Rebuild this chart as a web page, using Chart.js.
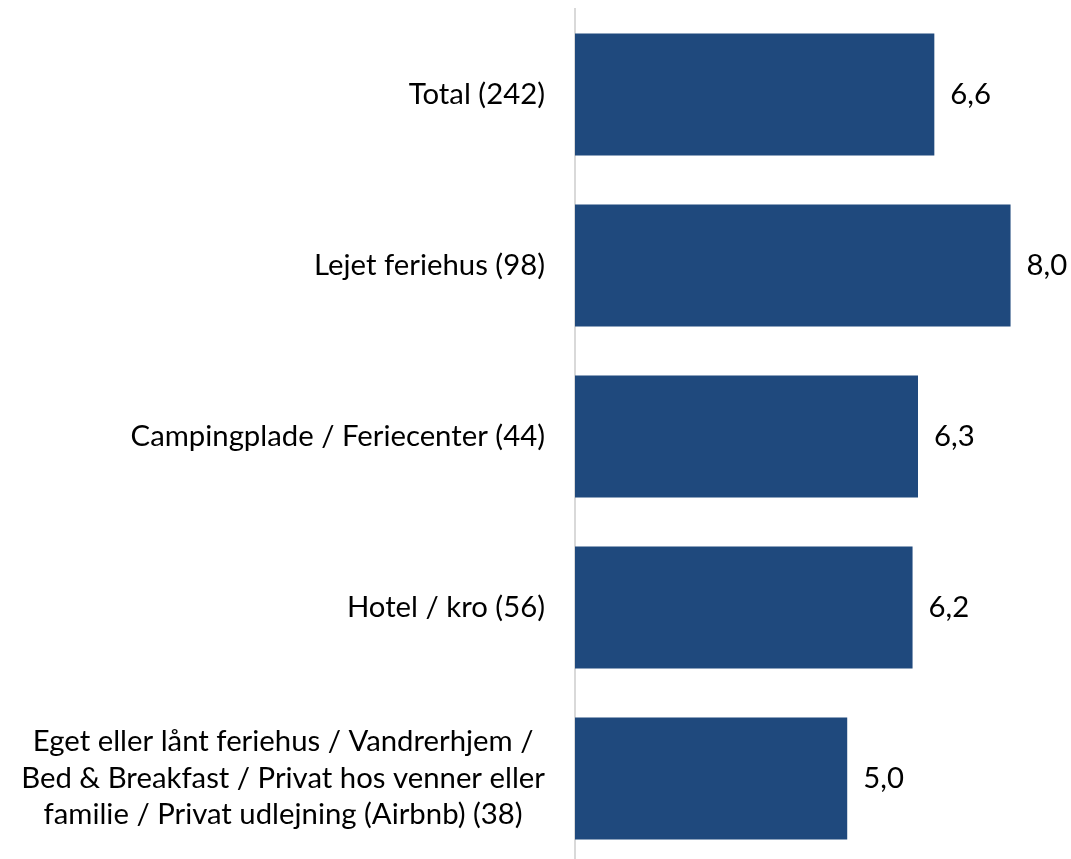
<!DOCTYPE html>
<html><head><meta charset="utf-8">
<script src="https://cdn.jsdelivr.net/npm/chart.js@4"></script>
<style>html,body{margin:0;padding:0;overflow:hidden;background:#fff}#wrap{width:1071px;height:864px;position:relative}</style>
</head><body><div id="wrap"><canvas id="c" width="1071" height="864"></canvas></div>
<script>
const categories = [
  ["Total (242)"],
  ["Lejet feriehus (98)"],
  ["Campingplade / Feriecenter (44)"],
  ["Hotel / kro (56)"],
  ["Eget eller lånt feriehus / Vandrerhjem /", "Bed & Breakfast / Privat hos venner eller", "familie / Privat udlejning (Airbnb) (38)"]
];
const values = [6.6, 8.0, 6.3, 6.2, 5.0];
const valueLabels = ["6,6", "8,0", "6,3", "6,2", "5,0"];

const FONT_FAMILY = "Lato, 'Open Sans', sans-serif";
// fit font size so the widest label line matches the reference width
const mctx = document.createElement('canvas').getContext('2d');
mctx.font = "100px " + FONT_FAMILY;
const refW = mctx.measureText("Bed & Breakfast / Privat hos venner eller").width;
const fontSize = Math.min(30, 524 / refW * 100);
const LINE_H = 36.5;

const labelPlugin = {
  id: 'labels',
  afterDatasetsDraw(chart) {
    const ctx = chart.ctx;
    const yScale = chart.scales.y;
    const meta = chart.getDatasetMeta(0);
    ctx.save();
    ctx.font = fontSize + "px " + FONT_FAMILY;
    ctx.fillStyle = "#000";
    ctx.textBaseline = "middle";
    const rightEdge = 545;
    categories.forEach((lines, i) => {
      const yc = yScale.getPixelForValue(i);
      const widths = lines.map(l => ctx.measureText(l).width);
      const blockW = Math.max(...widths);
      const center = rightEdge - blockW / 2;
      ctx.textAlign = "center";
      lines.forEach((l, k) => {
        const y = yc + (k - (lines.length - 1) / 2) * LINE_H;
        ctx.fillText(l, center, y);
      });
      // value labels
      const bar = meta.data[i];
      ctx.textAlign = "left";
      ctx.fillText(valueLabels[i], bar.x + 16, bar.y);
    });
    ctx.restore();
  }
};

new Chart(document.getElementById('c'), {
  type: 'bar',
  data: {
    labels: categories,
    datasets: [{
      data: values,
      backgroundColor: '#1F497D',
      borderWidth: 0,
      categoryPercentage: 1,
      barPercentage: 0.713
    }]
  },
  options: {
    indexAxis: 'y',
    responsive: false,
    animation: false,
    devicePixelRatio: 1,
    layout: { padding: { left: 575, right: 6, top: 9, bottom: 0 } },
    plugins: { legend: { display: false }, tooltip: { enabled: false } },
    scales: {
      x: { display: false, min: 0, max: 9 },
      y: {
        display: true,
        ticks: { display: false },
        grid: { display: false, drawTicks: false },
        border: { display: true, color: '#d9d9d9', width: 2 }
      }
    }
  },
  plugins: [labelPlugin]
});
</script>
</body></html>
